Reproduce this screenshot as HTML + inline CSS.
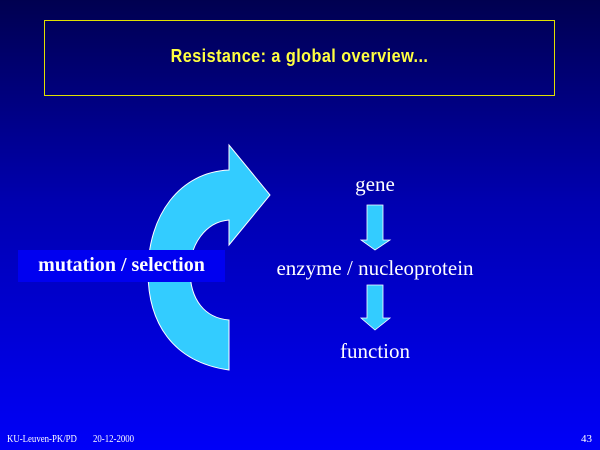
<!DOCTYPE html>
<html><head><style>
body{margin:0;width:600px;height:450px;overflow:hidden;background:linear-gradient(#000050 0%,#0000b0 45%,#0000f8 100%);position:relative;font-family:"Liberation Serif",serif;color:#fff}
.t{position:absolute;white-space:nowrap}
</style></head><body>
<div style="position:absolute;left:44px;top:20px;width:509px;height:74px;border:1px solid #e0e000"></div>
<div class="t" style="left:44px;width:511px;top:46px;text-align:center;color:#ffff40;font-family:'Liberation Sans',sans-serif;font-size:18px;font-weight:bold;letter-spacing:0.5px;transform:scaleX(0.9)">Resistance: a global overview...</div>
<svg width="600" height="450" style="position:absolute;left:0;top:0">
<path d="M229,370 C172,362 148,322 148,272 C148,215 180,172 229,170 L229,145 L270,195 L229,245 L229,220 C205,222 190,245 190,270 C190,300 205,318 229,320 Z" fill="#33ccff" stroke="#ffffff" stroke-width="1"/>
<path d="M367,205 H383 V240 H390 L375,250 L361,240 H367 Z" fill="#33ccff" stroke="#fff" stroke-width="0.8"/>
<path d="M367,285 H383 V318 H390 L375,330 L361,318 H367 Z" fill="#33ccff" stroke="#fff" stroke-width="0.8"/>
</svg>
<div style="position:absolute;left:18px;top:250px;width:207px;height:32px;background:#0000f0"></div>
<div class="t" style="left:18px;width:207px;top:254px;text-align:center;font-size:20px;font-weight:bold">mutation / selection</div>
<div class="t" style="left:275px;width:200px;top:172px;text-align:center;font-size:21px">gene</div>
<div class="t" style="left:275px;width:200px;top:256px;text-align:center;font-size:21px">enzyme / nucleoprotein</div>
<div class="t" style="left:275px;width:200px;top:339px;text-align:center;font-size:21px">function</div>
<div class="t" style="left:7px;top:433px;font-size:11px;transform:scaleX(0.8);transform-origin:left">KU-Leuven-PK/PD</div>
<div class="t" style="left:93px;top:433px;font-size:11px;transform:scaleX(0.8);transform-origin:left">20-12-2000</div>
<div class="t" style="left:581px;top:433px;font-size:11px">43</div>
</body></html>
